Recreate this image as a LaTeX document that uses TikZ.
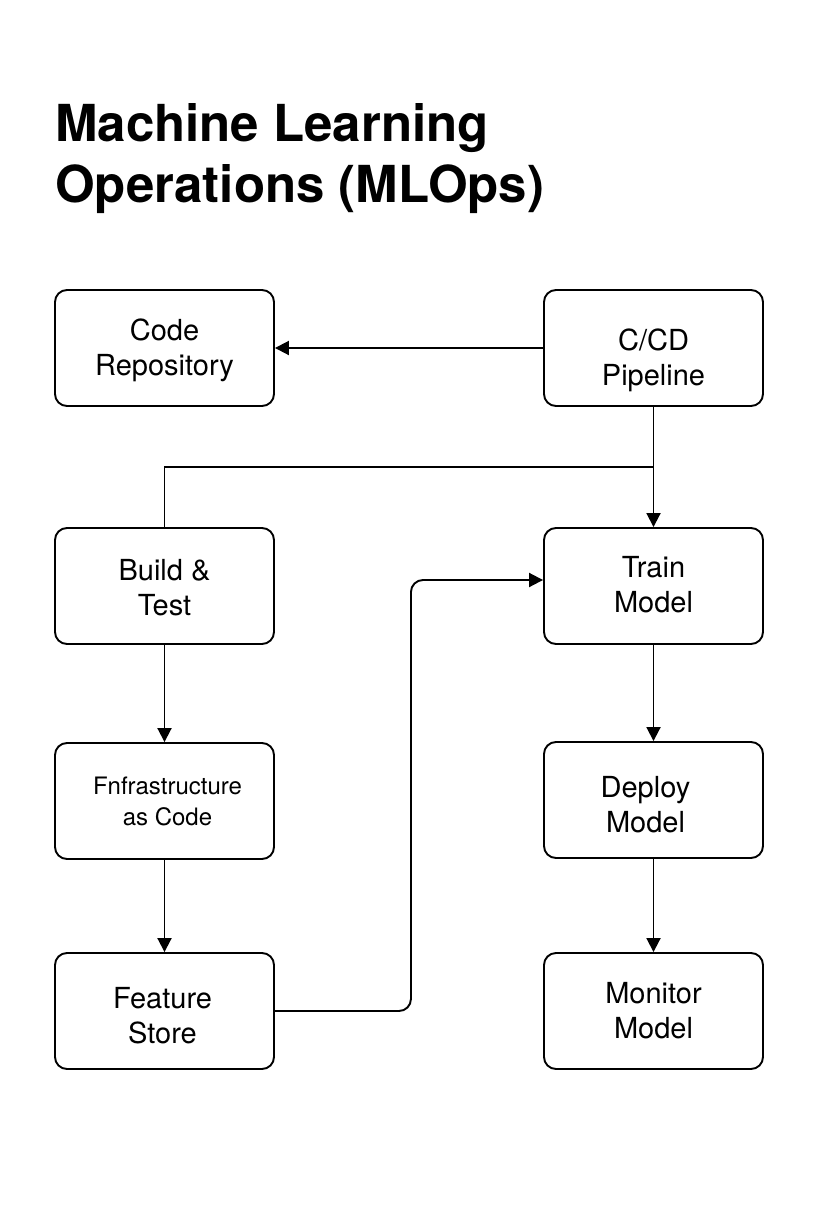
\documentclass[tikz,border=0pt]{standalone}
\usepackage{fontspec}
\setmainfont{TeX Gyre Heros}
\usetikzlibrary{arrows.meta}
\begin{document}
\begin{tikzpicture}[x=1pt,y=-1pt,
  box/.style={draw=black,line width=1.9pt,rounded corners=12pt,minimum width=219pt,minimum height=116pt,inner sep=0pt},
  lbl/.style={inner sep=0pt,align=center,font=\fontsize{29}{35}\selectfont},
  conn/.style={line width=1.9pt,draw=black},
  arr/.style={conn,-{Triangle[length=14pt,width=14pt]}},
  ttl/.style={anchor=base west,inner sep=0pt,font=\fontsize{51}{51}\bfseries\selectfont}]
\useasboundingbox (0,0) rectangle (820,1230);
\node[ttl] (t1) at (55,142) {Machine Learning};
\node[ttl] (t2) at (55,203) {Operations (MLOps)};
\node[box] (repo) at (164.5,348) {};
\node[box] (cicd) at (653.5,348) {};
\node[box] (build) at (164.5,586) {};
\node[box] (train) at (653.5,586) {};
\node[box] (infra) at (164.5,801) {};
\node[box] (deploy) at (653.5,800) {};
\node[box] (feat) at (164.5,1011) {};
\node[box] (mon) at (653.5,1011) {};
\node[lbl] (repo-t) at ([yshift=-2pt]repo.center) {Code\\Repository};
\node[lbl] (cicd-t) at ([yshift=-12pt]cicd.center) {C/CD\\Pipeline};
\node[lbl] (build-t) at ([yshift=-2pt]build.center) {Build \&\\Test};
\node[lbl] (train-t) at ([yshift=1pt]train.center) {Train\\Model};
\node[lbl,font=\fontsize{24}{31}\selectfont] (infra-t) at ([xshift=3pt]infra.center) {Fnfrastructure\\as Code};
\node[lbl] (deploy-t) at ([xshift=-8pt,yshift=-5pt]deploy.center) {Deploy\\Model};
\node[lbl] (feat-t) at ([xshift=-2pt,yshift=-5pt]feat.center) {Feature\\Store};
\node[lbl] (mon-t) at (mon.center) {Monitor\\Model};
\coordinate (j) at (653.5,467);
\draw[arr] (cicd.west) -- (repo.east);
\draw[arr] (cicd.south) -- (train.north);
\draw[conn] (build.north) |- (j);
\draw[arr] (build.south) -- (infra.north);
\draw[arr] (infra.south) -- (feat.north);
\draw[arr,rounded corners=12pt] (feat.east) -- ++(136,0) |- (train.west |- 0,580);
\draw[arr] (train.south) -- (deploy.north);
\draw[arr] (deploy.south) -- (mon.north);
\end{tikzpicture}
\end{document}
